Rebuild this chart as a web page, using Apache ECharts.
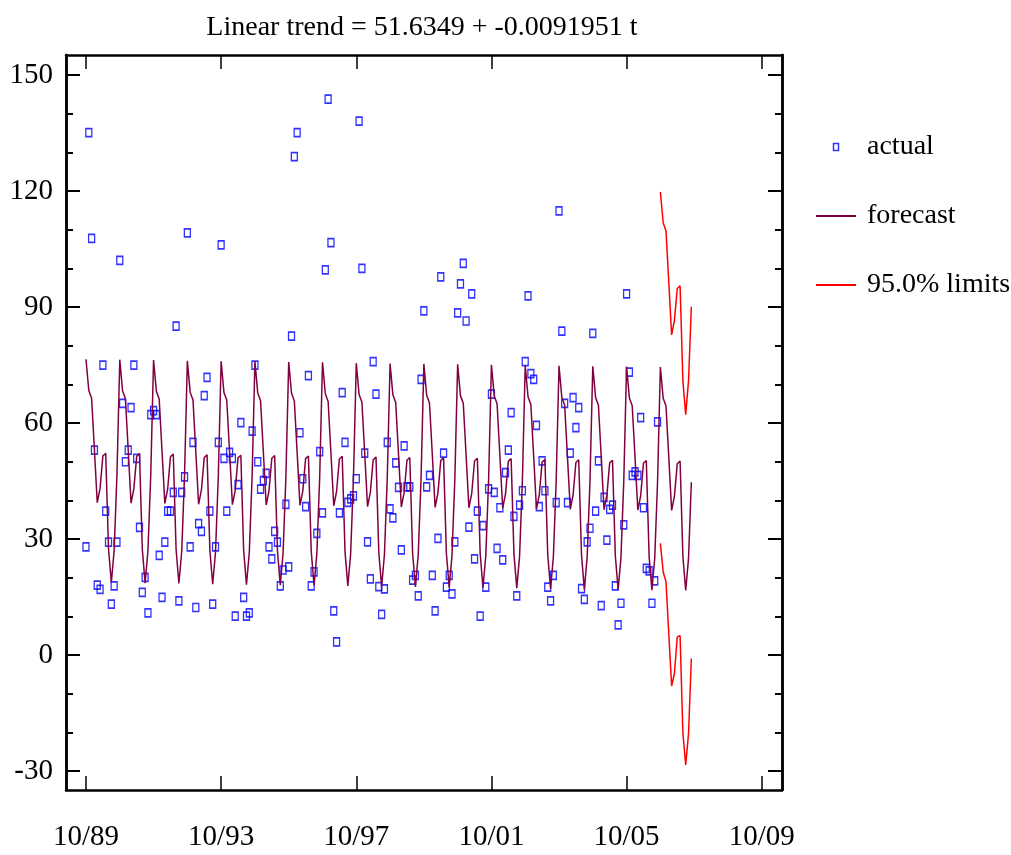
<!DOCTYPE html>
<html>
<head>
<meta charset="utf-8">
<title>Linear trend forecast</title>
<script src="https://cdn.jsdelivr.net/npm/echarts@6/dist/echarts.min.js"></script>
<style>
  html, body { margin: 0; padding: 0; background: #fff; }
  #chart { width: 1011px; height: 855px; }
</style>
</head>
<body>
<div id="chart"></div>
<script>
// monthly series, month 0 = 10/89
var actualValues = [
  28.0,135.1,107.8,53.0,18.1,17.0,75.0,37.2,29.2,13.2,17.9,29.2,
  102.1,65.1,50.0,53.0,64.0,75.0,50.9,33.0,16.2,20.1,10.9,62.2,
  63.2,62.2,25.8,14.9,29.2,37.2,37.2,42.1,85.1,14.0,42.1,46.1,
  109.2,28.0,55.0,12.3,34.0,32.0,67.1,71.8,37.2,13.2,28.0,55.0,
  106.1,50.9,37.2,52.4,50.9,10.1,44.1,60.1,14.9,10.1,10.9,57.9,
  75.0,50.0,42.9,45.1,47.0,28.0,24.9,32.0,29.2,17.9,22.0,39.0,
  22.8,82.5,128.9,135.1,57.5,45.6,38.4,72.3,17.9,21.5,31.5,52.6,
  36.8,99.6,143.8,106.7,11.4,3.4,36.8,67.9,55.0,39.5,40.4,41.2,
  45.6,138.1,100.0,52.2,29.3,19.7,75.9,67.5,17.7,10.5,17.1,55.0,
  37.8,35.5,49.7,43.4,27.2,54.1,43.5,43.5,19.4,20.6,15.3,71.3,
  89.0,43.5,46.5,20.6,11.4,30.2,97.8,52.2,17.6,20.6,15.8,29.3,
  88.5,96.0,101.3,86.4,33.1,93.4,24.9,37.2,10.1,33.5,17.6,43.0,
  67.5,42.1,27.6,38.1,24.6,47.2,53.0,62.7,35.9,15.3,38.8,42.5,
  75.9,92.9,72.8,71.3,59.4,38.4,50.2,42.5,17.6,14.0,20.6,39.4,
  114.9,83.8,65.1,39.4,52.2,66.6,58.8,64.0,17.2,14.4,29.3,32.8,
  83.2,37.2,50.2,12.8,40.8,29.7,37.7,38.8,17.9,7.8,13.4,33.7,
  93.4,73.2,46.5,47.4,46.5,61.4,38.1,22.4,21.8,13.4,19.2,60.3
];

var forecastValues = [
  76.5,68.4,66.4,53.0,39.4,43.1,51.5,52.2,27.5,18.7,27.0,46.7,
  76.4,68.3,66.3,52.9,39.3,43.0,51.4,52.1,27.4,18.6,26.9,46.6,
  76.3,68.2,66.2,52.8,39.2,42.9,51.3,52.0,27.3,18.5,26.8,46.5,
  76.1,68.0,66.0,52.6,39.0,42.7,51.1,51.8,27.1,18.3,26.6,46.3,
  76.0,67.9,65.9,52.5,38.9,42.6,51.0,51.7,27.0,18.2,26.5,46.2,
  75.9,67.8,65.8,52.4,38.8,42.5,50.9,51.6,26.9,18.1,26.4,46.1,
  75.8,67.7,65.7,52.3,38.7,42.4,50.8,51.5,26.8,18.0,26.3,46.0,
  75.7,67.6,65.6,52.2,38.6,42.3,50.7,51.4,26.7,17.9,26.2,45.9,
  75.5,67.4,65.4,52.0,38.4,42.1,50.5,51.2,26.5,17.7,26.0,45.7,
  75.4,67.3,65.3,51.9,38.3,42.0,50.4,51.1,26.4,17.6,25.9,45.6,
  75.3,67.2,65.2,51.8,38.2,41.9,50.3,51.0,26.3,17.5,25.8,45.5,
  75.2,67.1,65.1,51.7,38.1,41.8,50.2,50.9,26.2,17.4,25.7,45.4,
  75.1,67.0,65.0,51.6,38.0,41.7,50.1,50.8,26.1,17.3,25.6,45.3,
  74.9,66.8,64.8,51.4,37.8,41.5,49.9,50.6,25.9,17.1,25.4,45.1,
  74.8,66.7,64.7,51.3,37.7,41.4,49.8,50.5,25.8,17.0,25.3,45.0,
  74.7,66.6,64.6,51.2,37.6,41.3,49.7,50.4,25.7,16.9,25.2,44.9,
  74.6,66.5,64.5,51.1,37.5,41.2,49.6,50.3,25.6,16.8,25.1,44.8,
  74.5,66.4,64.4,51.0,37.4,41.1,49.5,50.2,25.5,16.7,25.0,44.7
];

// 95% limits for the 12 forecast months after the data
var upperLimit = [119.8,111.8,109.7,96.3,82.8,86.6,94.8,95.5,70.9,62.2,70.9,90.1];
var lowerLimit = [28.9,21.5,19.0,5.4,-8.0,-4.7,4.7,5.0,-20.2,-28.4,-20.4,-0.9];

var tickMonths = [0, 48, 96, 144, 192, 240];
var tickLabels = ['10/89', '10/93', '10/97', '10/01', '10/05', '10/09'];
var yMajor = [-30, 0, 30, 60, 90, 120, 150];
var yMinor = [-20, -10, 10, 20, 40, 50, 70, 80, 100, 110, 130, 140];

var fontFamily = "'Liberation Serif', 'Times New Roman', serif";
var limitStart = actualValues.length;

function pairs(values, start) {
    return values.map(function (v, i) { return [start + i, v]; });
}

function xAxis(pos) {
    return {
        type: 'value',
        position: pos,
        min: -7.1,
        max: 247.2,
        axisLine: {onZero: false, lineStyle: {color: '#000', width: 2.5}},
        axisTick: {inside: true, length: 14, customValues: tickMonths, lineStyle: {color: '#000', width: 1.5}},
        axisLabel: {
            show: pos == 'bottom',
            customValues: tickMonths,
            formatter: function (v) { return tickLabels[tickMonths.indexOf(v)]; },
            margin: 33,
            fontSize: 29,
            fontFamily: fontFamily,
            color: '#000'
        },
        splitLine: {show: false}
    };
}

function yAxis(pos, ticks, len, labels) {
    return {
        type: 'value',
        position: pos,
        min: -34.9,
        max: 155.2,
        axisLine: {onZero: false, lineStyle: {color: '#000', width: 2.5}},
        axisTick: {inside: true, length: len, customValues: ticks, lineStyle: {color: '#000', width: 2}},
        axisLabel: {
            show: labels,
            customValues: ticks,
            margin: 13,
            fontSize: 29,
            fontFamily: fontFamily,
            color: '#000'
        },
        splitLine: {show: false}
    };
}

var myChart = echarts.init(document.getElementById('chart'));

var option = {
    backgroundColor: '#fff',
    animation: false,
    title: {
        text: 'Linear trend = 51.6349 + -0.0091951 t',
        left: 417,
        textAlign: 'center',
        top: 9,
        textStyle: {fontFamily: fontFamily, fontSize: 28, fontWeight: 'normal', color: '#000'}
    },
    legend: {
        orient: 'vertical',
        left: 810,
        top: 128,
        itemWidth: 40,
        itemHeight: 7,
        itemGap: 41,
        symbolKeepAspect: true,
        data: [
            {name: 'actual', icon: 'path://M0,0H5V7H0Z',
             itemStyle: {color: 'rgba(0,0,0,0)', borderColor: '#0000ff', borderWidth: 1.5}},
            {name: 'forecast', itemStyle: {opacity: 0}},
            {name: '95.0% limits', itemStyle: {opacity: 0}}
        ],
        textStyle: {fontFamily: fontFamily, fontSize: 28, color: '#000', padding: [0, 0, 0, 6]}
    },
    grid: {left: 66, right: 229, top: 55, bottom: 65, containLabel: false},
    xAxis: [xAxis('bottom'), xAxis('top')],
    yAxis: [
        yAxis('left', yMajor, 14, true),
        yAxis('left', yMinor, 7, false),
        yAxis('right', yMajor, 14, false),
        yAxis('right', yMinor, 7, false)
    ],
    series: [
        {
            name: 'forecast',
            type: 'line',
            data: pairs(forecastValues, 0),
            symbol: 'none',
            lineStyle: {color: '#800040', width: 1.5},
            itemStyle: {color: '#800040'}
        },
        {
            name: '95.0% limits',
            type: 'line',
            data: pairs(upperLimit, limitStart),
            symbol: 'none',
            lineStyle: {color: '#ff0000', width: 1.5},
            itemStyle: {color: '#ff0000'}
        },
        {
            name: '95.0% limits',
            type: 'line',
            data: pairs(lowerLimit, limitStart),
            symbol: 'none',
            lineStyle: {color: '#ff0000', width: 1.5},
            itemStyle: {color: '#ff0000'}
        },
        {
            name: 'actual',
            type: 'scatter',
            data: pairs(actualValues, 0),
            symbol: 'rect',
            symbolSize: [6, 8],
            itemStyle: {color: 'rgba(0,0,0,0)', borderColor: '#0000ff', borderWidth: 1.5}
        }
    ]
};
myChart.setOption(option);
</script>
</body>
</html>
